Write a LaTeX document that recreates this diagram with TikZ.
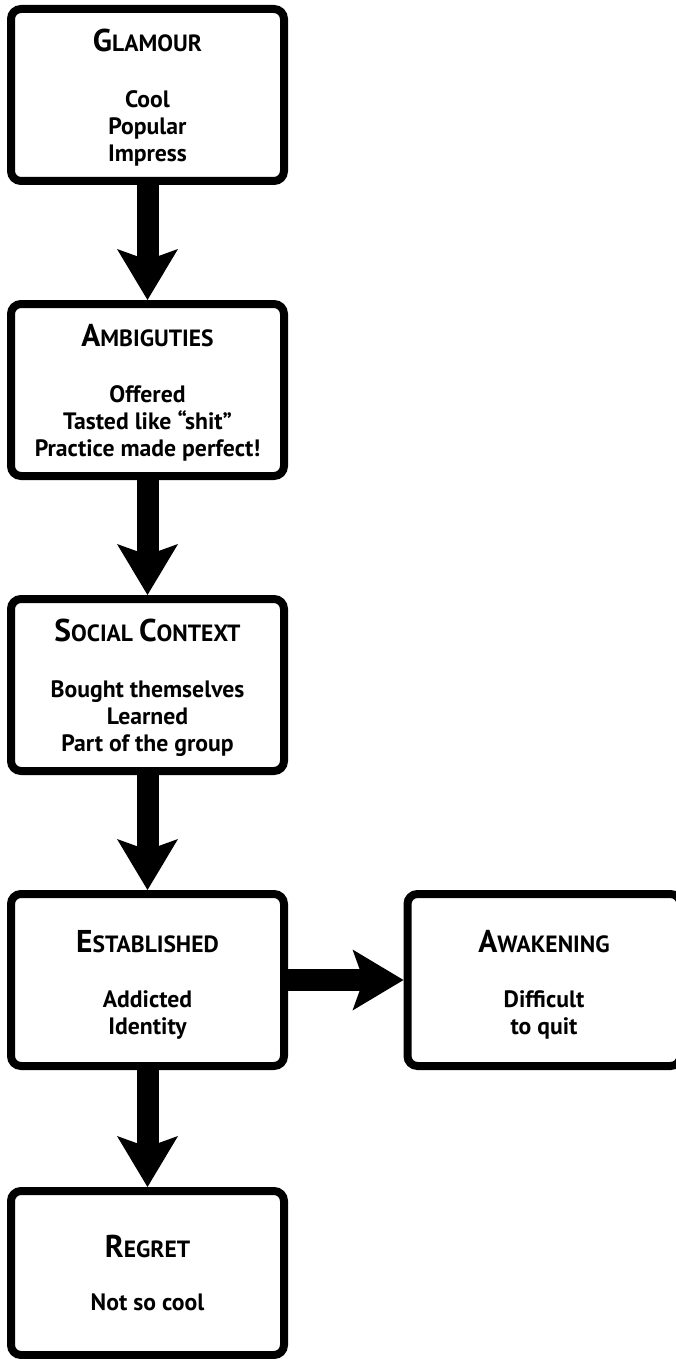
\documentclass[tikz,border=0pt]{standalone}
\usepackage{fontspec}
\setmainfont{PT Sans}
\usetikzlibrary{arrows.meta}
\newcommand\bodyfont{\fontsize{23.7}{27}\selectfont\bfseries}
\newcommand\Bg[1]{{\fontsize{31.5}{27}\selectfont #1}}
\newcommand\Sm[1]{{\fontsize{23.5}{27}\selectfont #1}}
\newcommand\tstrut[1]{\rule{0pt}{#1}}
\tikzset{
  stage/.style={draw, line width=8pt, rounded corners=10pt, minimum width=273pt,
    minimum height=172pt, inner sep=0pt, align=center, font=\bodyfont},
  flow/.style={line width=22pt, -{Stealth[length=51pt,width=61pt,inset=11pt,line width=0pt]}}
}
\begin{document}
\begin{tikzpicture}[x=1pt,y=-1pt]
\useasboundingbox (0,0) rectangle (676,1359);
\node[stage] (g) at (147.5,95) {\tstrut{28pt}\Bg{G}\Sm{LAMOUR}\\[29pt]Cool\\Popular\\Impress};
\node[stage] (a) at (147.5,390) {\tstrut{28pt}\Bg{A}\Sm{MBIGUTIES}\\[29pt]Offered\\Tasted like “shit”\\Practice made perfect!};
\node[stage] (s) at (147.5,685) {\tstrut{28pt}\Bg{S}\Sm{OCIAL} \Bg{C}\Sm{ONTEXT}\\[29pt]Bought themselves\\Learned\\Part of the group};
\node[stage] (e) at (147.5,980) {\tstrut{32pt}\Bg{E}\Sm{STABLISHED}\\[28pt]Addicted\\Identity};
\node[stage] (w) at (544,980) {\tstrut{32pt}\Bg{A}\Sm{WAKENING}\\[28pt]Difficult\\to quit};
\node[stage, minimum height=164pt] (r) at (147.5,1273) {\Bg{R}\Sm{EGRET}\\[26pt]Not so cool};
\draw[flow] (g.south) -- (a.north);
\draw[flow] (a.south) -- (s.north);
\draw[flow] (s.south) -- (e.north);
\draw[flow] (e.east) -- (w.west);
\draw[flow] (e.south) -- (r.north);
\end{tikzpicture}
\end{document}
